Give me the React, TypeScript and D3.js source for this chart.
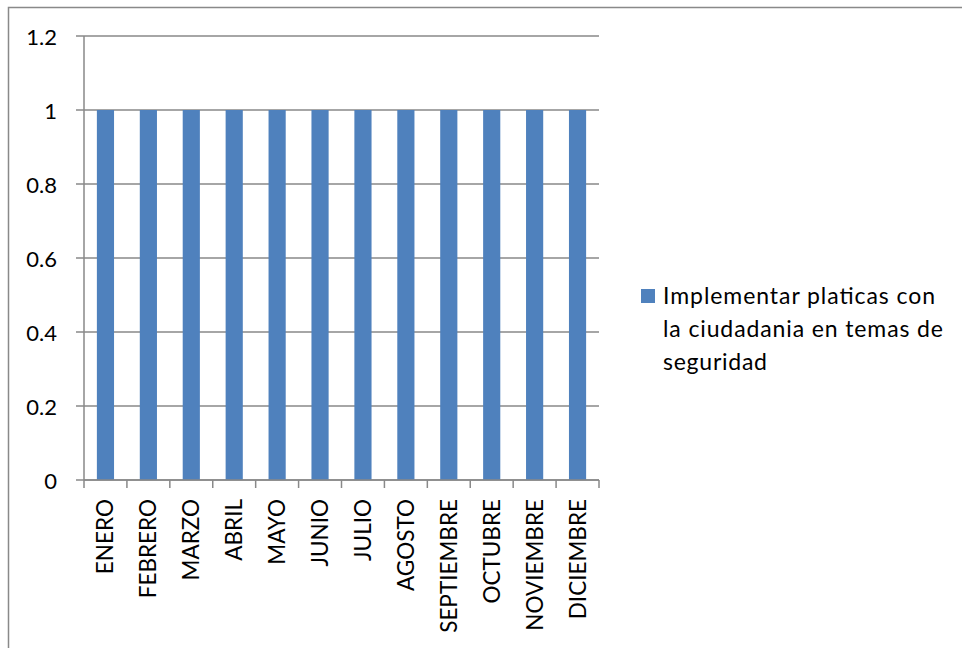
import React from "react";
import * as d3 from "d3";

const categories = [
  "ENERO", "FEBRERO", "MARZO", "ABRIL", "MAYO", "JUNIO",
  "JULIO", "AGOSTO", "SEPTIEMBRE", "OCTUBRE", "NOVIEMBRE", "DICIEMBRE",
];
const values = [1, 1, 1, 1, 1, 1, 1, 1, 1, 1, 1, 1];
const yTicks = [0, 0.2, 0.4, 0.6, 0.8, 1, 1.2];
const yTickLabels = ["0", "0.2", "0.4", "0.6", "0.8", "1", "1.2"];
const seriesName = "Implementar platicas con la ciudadania en temas de seguridad";
const legendLines = ["Implementar platicas con", "la ciudadania en temas de", "seguridad"];
const legendWidths = [272, 280, 104];

const W = 962;
const H = 648;
const FONT = "Lato, 'Open Sans', sans-serif";
const GRID = "#898989";
const BAR = "#4f81bd";

export default function App() {
  const x0 = 84, x1 = 599, yTop = 36, yBot = 480;
  const x = d3.scaleBand<string>().domain(categories).range([x0, x1]).paddingInner(0.6).paddingOuter(0.3);
  const band = d3.scaleBand<string>().domain(categories).range([x0, x1]);
  const y = d3.scaleLinear().domain([0, 1.2]).range([yBot, yTop]);

  return (
    <svg
      width={W}
      height={H}
      style={{ position: "absolute", left: 0, top: 0, background: "#fff" }}
      fontFamily={FONT}
    >
      <rect x={0} y={0} width={W} height={H} fill="#fff" />
      {/* outer chart frame (extends beyond view) */}
      <rect x={8.5} y={7.5} width={W + 20} height={H + 20} fill="none" stroke={GRID} strokeWidth={1.5} />

      {/* gridlines + y ticks */}
      {yTicks.map((t, i) => (
        <g key={i}>
          <line x1={76} x2={x1} y1={y(t)} y2={y(t)} stroke={GRID} strokeWidth={1.5} />
          <text
            x={57}
            y={y(t)}
            textAnchor="end"
            dominantBaseline="central"
            fontSize={22}
            fill="#000"
          >
            {yTickLabels[i]}
          </text>
        </g>
      ))}

      {/* bars */}
      {categories.map((c, i) => (
        <rect
          key={c}
          x={x(c)}
          y={y(values[i])}
          width={x.bandwidth()}
          height={y(0) - y(values[i])}
          fill={BAR}
        />
      ))}

      {/* y axis line */}
      <line x1={x0} x2={x0} y1={yTop} y2={yBot} stroke={GRID} strokeWidth={1.5} />
      {/* x axis line */}
      <line x1={x0} x2={x1} y1={yBot} y2={yBot} stroke={GRID} strokeWidth={1.5} />
      {/* x tick marks at band boundaries */}
      {[...categories.map((c) => band(c) as number), x1].map((bx, i) => (
        <line key={i} x1={bx} x2={bx} y1={yBot} y2={yBot + 8} stroke={GRID} strokeWidth={1.5} />
      ))}

      {/* x labels */}
      {categories.map((c) => {
        const cx = (band(c) as number) + band.bandwidth() / 2;
        return (
          <text
            key={c}
            transform={`translate(${cx + 8},${499}) rotate(-90)`}
            textAnchor="end"
            fontSize={22.5}
            fill="#000"
          >
            {c}
          </text>
        );
      })}

      {/* legend */}
      <g aria-label={seriesName}>
        <rect x={641} y={289} width={14} height={14} fill={BAR} />
        {legendLines.map((l, i) => (
          <text
            key={i}
            x={663}
            y={304 + i * 33}
            fontSize={23}
            fill="#000"
            textLength={legendWidths[i]}
            lengthAdjust="spacing"
          >
            {l}
          </text>
        ))}
      </g>
    </svg>
  );
}
